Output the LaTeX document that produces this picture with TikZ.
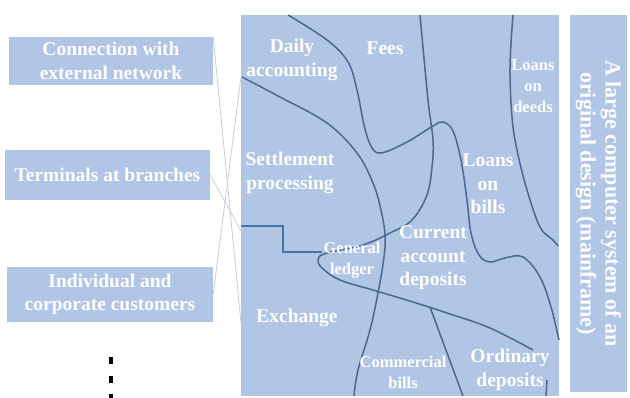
\documentclass[tikz,border=0pt]{standalone}
\usepackage{fontspec}
\setmainfont{Liberation Serif}
\definecolor{boxblue}{RGB}{177,197,229}
\definecolor{lineblue}{RGB}{74,104,146}
\definecolor{stepblue}{RGB}{70,114,170}
\definecolor{linkgray}{RGB}{196,206,222}

\begin{document}
\begin{tikzpicture}[x=1pt, y=-1pt]
	\tikzstyle{every node} = [rectangle, inner sep=0pt]
	\tikzstyle{box}    = [fill=boxblue]
	\tikzstyle{big}    = [text=white, font=\bfseries\fontsize{19.5}{23.5}\selectfont, align=center]
	\tikzstyle{small}  = [text=white, font=\bfseries\fontsize{16.5}{21}\selectfont, align=center]
	\tikzstyle{border} = [draw=lineblue, line width=1.5pt]
	\tikzstyle{link}   = [draw=linkgray, line width=0.8pt]
	\useasboundingbox (0,0) rectangle (630,398);
	\node[box, big, minimum width=204, minimum height=48] (ext)   at (111,61)    {Connection with\\external network};
	\node[box, big, minimum width=205, minimum height=50] (term)  at (107.5,175) {Terminals at branches};
	\node[box, big, minimum width=206, minimum height=55] (cust)  at (110,294.5) {Individual and\\corporate customers};
	\node[box, minimum width=318, minimum height=381]      (sys)   at (400,205.5) {};
	\node[box, big, font=\bfseries\fontsize{22}{25}\selectfont, rotate=-90,
	      minimum width=377, minimum height=57]            (frame) at (598.5,203.5) {A large computer system of an\\original design (mainframe)};
	\coordinate (inA) at (241,323);
	\coordinate (inB) at (241,77);
	\coordinate (inC) at (241,231);
	\draw [link] (ext.north east) -- (inA);
	\draw [link] (inB) -- (cust.east);
	\draw [link] (term.east) -- (inC);
	\fill (109,357) rectangle (113,364);
	\fill (109,376) rectangle (113,383);
	\fill (109,394) rectangle (113,401);
	\draw [border] plot[smooth, tension=0.6] coordinates {(288,15) (327,40) (348,62) (357,90) (364,125) (371,146) (381,153) (407,142) (433,126) (443,122) (453,131) (461,160) (467,200) (471,233) (479,255) (490,262) (505,258) (523,257) (540,277) (551,307) (559,340)};
	\draw [border] plot[smooth, tension=0.6] coordinates {(420,15) (428,100) (433,140) (432,167) (427,195) (412,220) (390,233) (363,245) (327,253) (318,259) (322,268) (340,280) (373,290) (413,302) (450,314) (490,328) (533,350)};
	\draw [border] plot[smooth, tension=0.6] coordinates {(242,77) (280,97) (327,123) (357,153) (373,183) (381,210) (385,235) (384,257) (378,293) (370,330) (358,370) (354,396)};
	\draw [border] plot[smooth, tension=0.6] coordinates {(513,15) (510,67) (512,117) (517,150) (527,190) (540,227) (553,240) (558,246)};
	\draw [border] (430,307) -- (463,396);
	\draw [border] (547,380) -- (546,396);
	\draw [draw=stepblue, line width=1.8pt] (241,226) -- (283,226) -- (283,252) -- (322,252);
	\node[big]   (daily)      at (292,60)  {Daily\\accounting};
	\node[big]   (fees)       at (385,48)  {Fees};
	\node[small] (deeds)      at (533,86)  {Loans\\on\\deeds};
	\node[big]   (settle)     at (290,173) {Settlement\\processing};
	\node[big]   (billloan)   at (488,184) {Loans\\on\\bills};
	\node[small] (ledger)     at (352,260) {General\\ledger};
	\node[big]   (current)    at (433,258) {Current\\account\\deposits};
	\node[big]   (exchange)   at (297,318) {Exchange};
	\node[small] (commercial) at (403,372) {Commercial\\bills};
	\node[big]   (ordinary)   at (510,370) {Ordinary\\deposits};
\end{tikzpicture}
\end{document}
